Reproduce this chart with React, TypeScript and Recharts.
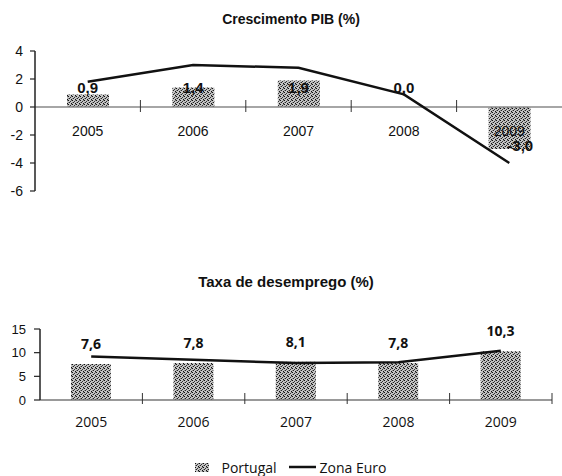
import React from 'react';
import { ComposedChart, Bar, Line, XAxis, YAxis, ReferenceLine, LabelList, Legend } from 'recharts';

const years = ['2005', '2006', '2007', '2008', '2009'];
const gdpPortugal = [0.9, 1.4, 1.9, 0.0, -3.0];
const gdpEuro = [1.8, 3.0, 2.8, 0.9, -4.0];
const unempPortugal = [7.6, 7.8, 8.1, 7.8, 10.3];
const unempEuro = [9.2, 8.5, 7.8, 8.0, 10.4];
const gdpTicks = [-6, -4, -2, 0, 2, 4];
const unempTicks = [0, 5, 10, 15];

const gdpData = years.map((y, i) => ({ year: y, portugal: gdpPortugal[i], euro: gdpEuro[i] }));
const unempData = years.map((y, i) => ({ year: y, portugal: unempPortugal[i], euro: unempEuro[i] }));

const fmt = (v: number) => Number(v).toFixed(1).replace('.', ',');

// top chart layout
const T_MARGIN = 51;
const T_PLOT_H = 140;
const ZERO_Y = T_MARGIN + T_PLOT_H * (4 / 10);

const GdpTick = (props: any) => {
  const { x, payload, index, width, visibleTicksCount } = props;
  const n = visibleTicksCount || years.length;
  const bw = width ? width / n : 105.4;
  return (
    <g>
      <text x={x} y={ZERO_Y + 29} textAnchor="middle" fontFamily="Liberation Sans" fontSize={14} fill="#111">
        {payload.value}
      </text>
      {index < n - 1 && (
        <line x1={x + bw / 2} x2={x + bw / 2} y1={ZERO_Y - 7} y2={ZERO_Y + 5} stroke="#333" strokeWidth={1} />
      )}
    </g>
  );
};

const UnempTick = (props: any) => {
  const { x, y, payload, width, visibleTicksCount } = props;
  const n = visibleTicksCount || years.length;
  const bw = width ? width / n : 102.4;
  return (
    <g>
      <text x={x} y={y + 27} textAnchor="middle" fontFamily="Open Sans" fontSize={14} fill="#111">
        {payload.value}
      </text>
      <line x1={x + bw / 2} x2={x + bw / 2} y1={y - 7} y2={y + 4} stroke="#333" strokeWidth={1} />
    </g>
  );
};

// labels placed on the points of a hidden line carrying the Portugal values
const GdpLabel = (props: any) => {
  const x = props.x ?? props.viewBox?.x;
  const y = props.y ?? props.viewBox?.y;
  const value = Number(props.value);
  if (value >= 0) {
    return (
      <text x={x} y={ZERO_Y - 14.5} textAnchor="middle" fontFamily="Liberation Sans" fontWeight="bold" fontSize={15} fill="#111">
        {fmt(value)}
      </text>
    );
  }
  return (
    <text x={x + 11} y={y + 1.5} textAnchor="middle" fontFamily="Liberation Sans" fontWeight="bold" fontSize={15} fill="#111">
      {fmt(value)}
    </text>
  );
};

const UnempLabel = (props: any) => {
  const vb = props.viewBox || props;
  const { x, y, width, height } = vb;
  const top = Math.min(y, y + height);
  return (
    <text x={x + width / 2} y={top - 15} textAnchor="middle" fontFamily="Open Sans" fontWeight="bold" fontSize={14} fill="#111">
      {fmt(props.value)}
    </text>
  );
};

const LegendContent = () => (
  <div
    style={{
      display: 'flex',
      justifyContent: 'center',
      alignItems: 'center',
      fontFamily: 'Open Sans',
      fontSize: 14,
      color: '#111',
      height: 20,
      paddingLeft: 20,
    }}
  >
    <svg width={14} height={9} style={{ display: 'block' }}>
      <rect x={0} y={0} width={14} height={9} fill="url(#dots)" />
    </svg>
    <span style={{ marginLeft: 12 }}>Portugal</span>
    <svg width={27} height={4} style={{ display: 'block', marginLeft: 12 }}>
      <line x1={0} x2={27} y1={2} y2={2} stroke="#111" strokeWidth={2.5} />
    </svg>
    <span style={{ marginLeft: 4 }}>Zona Euro</span>
  </div>
);

const Dots = () => (
  <defs>
    <pattern id="dots" width={4} height={4} patternUnits="userSpaceOnUse">
      <rect x={0} y={0} width={4} height={4} fill="#c4c4c4" />
      <rect x={0} y={0} width={1} height={1} fill="#111" />
      <rect x={2} y={1} width={1} height={1} fill="#333" />
      <rect x={1} y={2} width={1} height={1} fill="#222" />
      <rect x={3} y={3} width={1} height={1} fill="#111" />
      <rect x={3} y={0} width={1} height={1} fill="#777" />
      <rect x={0} y={2} width={1} height={1} fill="#888" />
    </pattern>
  </defs>
);

export default function App() {
  return (
    <div style={{ position: 'absolute', left: 0, top: 0, width: 562, height: 476, background: '#fff', overflow: 'hidden' }}>
      <div
        style={{
          position: 'absolute',
          top: 11,
          left: 0,
          width: 562,
          paddingLeft: 20,
          boxSizing: 'border-box',
          textAlign: 'center',
          fontFamily: 'Liberation Sans',
          fontWeight: 'bold',
          fontSize: 14,
          lineHeight: '16px',
          color: '#111',
        }}
      >
        Crescimento PIB (%)
      </div>
      <div style={{ position: 'absolute', top: 0, left: 0 }}>
        <ComposedChart width={562} height={T_MARGIN + T_PLOT_H + 30} data={gdpData} margin={{ top: T_MARGIN, right: 0, left: 0, bottom: 0 }}>
          <Dots />
          <XAxis dataKey="year" height={30} axisLine={false} tickLine={false} tickSize={0} tickMargin={0} tick={<GdpTick />} interval={0} />
          <YAxis
            width={35}
            domain={[-6, 4]}
            ticks={gdpTicks}
            interval={0}
            axisLine={{ stroke: '#222', strokeWidth: 1.5 }}
            tickLine={{ stroke: '#222', strokeWidth: 1.2 }}
            tickSize={5}
            tickMargin={7}
            tick={{ fontFamily: 'Liberation Sans', fontSize: 14, fill: '#111' }}
          />
          <ReferenceLine y={0} stroke="#888" strokeWidth={1.5} />
          <Bar dataKey="portugal" name="Portugal" fill="url(#dots)" barSize={42} isAnimationActive={false} />
          <Line dataKey="euro" name="Zona Euro" stroke="#111" strokeWidth={2.5} dot={false} type="linear" isAnimationActive={false} />
          <Line dataKey="portugal" stroke="none" dot={false} activeDot={false} legendType="none" isAnimationActive={false}>
            <LabelList dataKey="portugal" content={<GdpLabel />} />
          </Line>
        </ComposedChart>
      </div>

      <div
        style={{
          position: 'absolute',
          top: 273,
          left: 0,
          width: 562,
          paddingLeft: 10,
          boxSizing: 'border-box',
          textAlign: 'center',
          fontFamily: 'Liberation Sans',
          fontWeight: 'bold',
          fontSize: 15,
          lineHeight: '17px',
          color: '#111',
        }}
      >
        Taxa de desemprego (%)
      </div>
      <div style={{ position: 'absolute', top: 300, left: 0 }}>
        <ComposedChart width={562} height={176} data={unempData} margin={{ top: 29, right: 10, left: 0, bottom: 0 }}>
          <Dots />
          <XAxis
            dataKey="year"
            height={76}
            axisLine={{ stroke: '#777', strokeWidth: 1.5 }}
            tickLine={false}
            tickSize={0}
            tickMargin={0}
            tick={<UnempTick />}
            interval={0}
          />
          <YAxis
            width={40}
            domain={[0, 15]}
            ticks={unempTicks}
            interval={0}
            axisLine={{ stroke: '#222', strokeWidth: 1.5 }}
            tickLine={{ stroke: '#222', strokeWidth: 1.2 }}
            tickSize={6}
            tickMargin={8}
            tick={{ fontFamily: 'Liberation Sans', fontSize: 13, fill: '#111' }}
          />
          <Bar dataKey="portugal" name="Portugal" fill="url(#dots)" barSize={40} isAnimationActive={false}>
            <LabelList dataKey="portugal" content={<UnempLabel />} />
          </Bar>
          <Line dataKey="euro" name="Zona Euro" stroke="#111" strokeWidth={2.5} dot={false} type="linear" isAnimationActive={false} />
          <Legend
            verticalAlign="middle"
            align="center"
            layout="horizontal"
            content={<LegendContent />}
            wrapperStyle={{ top: 157, left: 0, width: 562, height: 20 }}
          />
        </ComposedChart>
      </div>
    </div>
  );
}
